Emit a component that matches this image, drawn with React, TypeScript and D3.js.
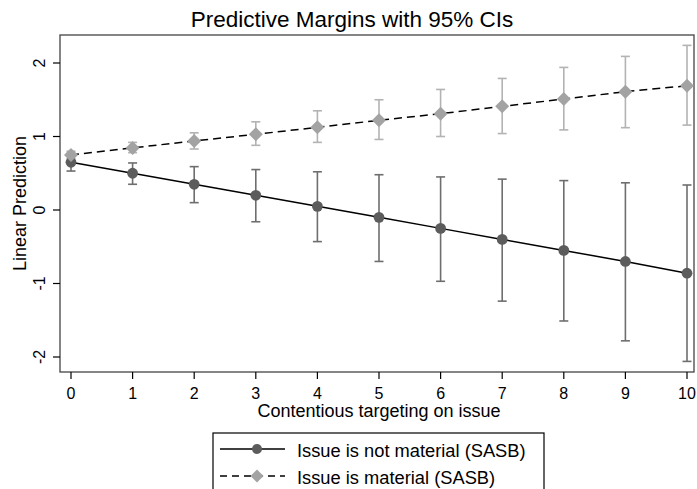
import React from "react";
import * as d3 from "d3";

const xValues = [0, 1, 2, 3, 4, 5, 6, 7, 8, 9, 10];
const notMaterial = [0.65, 0.50, 0.35, 0.20, 0.05, -0.10, -0.25, -0.40, -0.55, -0.70, -0.86];
const notMaterialLo = [0.53, 0.35, 0.10, -0.16, -0.43, -0.70, -0.97, -1.24, -1.51, -1.78, -2.06];
const notMaterialHi = [0.77, 0.64, 0.59, 0.55, 0.52, 0.48, 0.45, 0.42, 0.40, 0.37, 0.34];
const material = [0.75, 0.845, 0.94, 1.03, 1.125, 1.22, 1.31, 1.41, 1.51, 1.61, 1.69];
const materialLo = [0.70, 0.78, 0.83, 0.88, 0.92, 0.96, 1.00, 1.04, 1.09, 1.12, 1.155];
const materialHi = [0.80, 0.92, 1.05, 1.20, 1.35, 1.50, 1.64, 1.79, 1.94, 2.09, 2.24];
const yTicks = [-2, -1, 0, 1, 2];
const xTicks = [0, 1, 2, 3, 4, 5, 6, 7, 8, 9, 10];
const title = "Predictive Margins with 95% CIs";
const xTitle = "Contentious targeting on issue";
const yTitle = "Linear Prediction";
const legendLabels = ["Issue is not material (SASB)", "Issue is material (SASB)"];

const W = 697;
const H = 489;
const FONT = "'Liberation Sans', Arial, sans-serif";
const frame = { left: 60, right: 694, top: 35, bottom: 372 };
const DARK = "#5c5c5c";
const DARK_CI = "#6e6e6e";
const LIGHT = "#a3a3a3";
const LIGHT_CI = "#b3b3b3";

export default function App() {
  const x = d3.scaleLinear().domain([0, 10]).range([71, 687]);
  const y = d3.scaleLinear().domain([-2, 2]).range([357, 63]);
  const line = d3
    .line<number>()
    .x((_, i) => x(xValues[i]))
    .y((d) => y(d));
  const diamond = (cx: number, cy: number, r: number) =>
    `M${cx},${cy - r}L${cx + r},${cy}L${cx},${cy + r}L${cx - r},${cy}Z`;
  const cap = 4.5;

  const errorBars = (lo: number[], hi: number[], color: string, key: string) =>
    xValues.map((xv, i) => {
      const cx = x(xv);
      return (
        <g key={key + i} stroke={color} strokeWidth={1.6} fill="none">
          <line x1={cx} x2={cx} y1={y(lo[i])} y2={y(hi[i])} />
          <line x1={cx - cap} x2={cx + cap} y1={y(lo[i])} y2={y(lo[i])} />
          <line x1={cx - cap} x2={cx + cap} y1={y(hi[i])} y2={y(hi[i])} />
        </g>
      );
    });

  return (
    <svg
      width={W}
      height={H}
      style={{ position: "absolute", left: 0, top: 0, background: "#fff" }}
      fontFamily={FONT}
    >
      <rect x={0} y={0} width={W} height={H} fill="#fff" />
      <text x={352} y={27} textAnchor="middle" fontSize={22.5} fill="#000">
        {title}
      </text>
      <rect
        x={frame.left}
        y={frame.top}
        width={frame.right - frame.left}
        height={frame.bottom - frame.top}
        fill="none"
        stroke="#444"
        strokeWidth={1.3}
      />
      {/* y axis */}
      {yTicks.map((t) => (
        <g key={"yt" + t}>
          <line x1={frame.left - 7} x2={frame.left} y1={y(t)} y2={y(t)} stroke="#000" strokeWidth={1.2} />
          <text
            transform={`translate(45,${y(t)}) rotate(-90)`}
            textAnchor="middle"
            fontSize={16}
            fill="#000"
          >
            {t}
          </text>
        </g>
      ))}
      <text transform={`translate(26,${(frame.top + frame.bottom) / 2}) rotate(-90)`} textAnchor="middle" fontSize={18} fill="#000">
        {yTitle}
      </text>
      {/* x axis */}
      {xTicks.map((t) => (
        <g key={"xt" + t}>
          <line x1={x(t)} x2={x(t)} y1={frame.bottom} y2={frame.bottom + 7} stroke="#000" strokeWidth={1.2} />
          <text x={x(t)} y={399} textAnchor="middle" fontSize={16} fill="#000">
            {t}
          </text>
        </g>
      ))}
      <text x={379} y={417} textAnchor="middle" fontSize={18} fill="#000">
        {xTitle}
      </text>

      {/* series */}
      {errorBars(notMaterialLo, notMaterialHi, DARK_CI, "nm")}
      {errorBars(materialLo, materialHi, LIGHT_CI, "m")}
      <path d={line(notMaterial) || ""} fill="none" stroke="#000" strokeWidth={1.5} />
      <path d={line(material) || ""} fill="none" stroke="#000" strokeWidth={1.5} strokeDasharray="8,5" />
      {notMaterial.map((v, i) => (
        <circle key={"nmp" + i} cx={x(xValues[i])} cy={y(v)} r={5.4} fill={DARK} />
      ))}
      {material.map((v, i) => (
        <path key={"mp" + i} d={diamond(x(xValues[i]), y(v), 7)} fill={LIGHT} />
      ))}

      {/* legend */}
      <rect x={213} y={433} width={331} height={70} fill="#fff" stroke="#000" strokeWidth={1.2} />
      <line x1={220} x2={285} y1={449} y2={449} stroke="#000" strokeWidth={1.5} />
      <circle cx={257} cy={449} r={5} fill={DARK} />
      <text x={297} y={457} fontSize={18.3} fill="#000">
        {legendLabels[0]}
      </text>
      <line x1={220} x2={285} y1={476} y2={476} stroke="#000" strokeWidth={1.5} strokeDasharray="7,5" />
      <path d={diamond(257, 476, 6.5)} fill={LIGHT} />
      <text x={297} y={484} fontSize={18.3} fill="#000">
        {legendLabels[1]}
      </text>
    </svg>
  );
}
